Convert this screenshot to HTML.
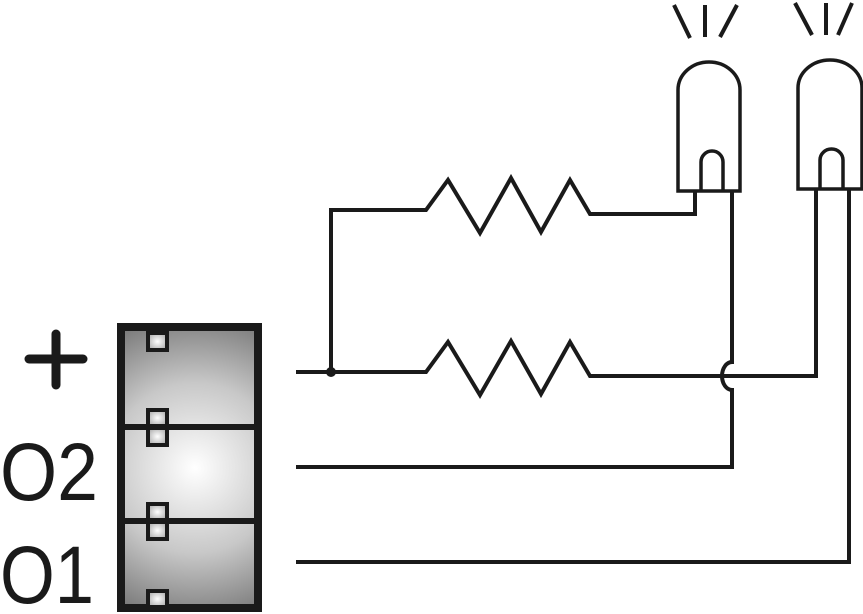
<!DOCTYPE html>
<html><head><style>body{margin:0;background:#fff}svg{display:block}</style></head>
<body>
<svg width="863" height="614" viewBox="0 0 863 614" xmlns="http://www.w3.org/2000/svg">
<defs>
<radialGradient id="g" cx="195" cy="468" r="170" gradientUnits="userSpaceOnUse">
<stop offset="0" stop-color="#ffffff"/><stop offset="0.5" stop-color="#c8c8c8"/><stop offset="1" stop-color="#6a6a6a"/>
</radialGradient>
<radialGradient id="s" cx="0.5" cy="0.5" r="0.6"><stop offset="0" stop-color="#fff"/><stop offset="1" stop-color="#aaa"/></radialGradient>
</defs>
<g fill="none" stroke="#1a1a1a" stroke-width="4" stroke-linejoin="miter">
<!-- top resistor branch -->
<polyline points="331,372 331,210 426,210 448,180 480,233 511,178 541,232 570,180 590,214 695,214 695,191"/>
<!-- middle resistor -->
<polyline points="296,372 426,372 448,342 480,395 511,341 541,394 570,342 590,376 816,376 816,189"/>
<!-- O2 wire with hop -->
<path d="M296,467 H732 V390 A10,14 0 0 1 732,362 V191"/>
<!-- O1 wire -->
<polyline points="296,562 849,562 849,189"/>
<!-- LED1 -->
<path d="M678,191 V90 A31,28 0 0 1 740,90 V191 Z" stroke-width="3.5"/>
<path d="M701,191 V162 A11,11 0 0 1 723,162 V191" stroke-width="3.5"/>
<line x1="674" y1="5" x2="690" y2="38"/><line x1="705" y1="5" x2="705" y2="37"/><line x1="737" y1="5" x2="720" y2="37"/>
<!-- LED2 -->
<path d="M798,189 V88 A32,28 0 0 1 862,88 V189 Z" stroke-width="3.5"/>
<path d="M820,189 V160 A11.5,11 0 0 1 843,160 V189" stroke-width="3.5"/>
<line x1="795" y1="3" x2="812" y2="35"/><line x1="826" y1="3" x2="826" y2="35"/><line x1="852" y1="3" x2="838" y2="35"/>
</g>
<circle cx="331" cy="372" r="5" fill="#1a1a1a"/>
<!-- battery -->
<rect x="121" y="327" width="137" height="281" fill="url(#g)" stroke="#1a1a1a" stroke-width="8"/>
<rect x="121" y="424" width="137" height="6" fill="#1a1a1a"/>
<rect x="121" y="518" width="137" height="6" fill="#1a1a1a"/>
<g fill="url(#s)" stroke="#1a1a1a" stroke-width="4">
<rect x="148" y="333" width="19" height="17"/>
<rect x="148" y="410" width="19" height="16"/><rect x="148" y="428" width="19" height="17"/>
<rect x="148" y="504" width="19" height="16"/><rect x="148" y="522" width="19" height="17"/>
<rect x="148" y="591" width="19" height="16"/>
</g>
<!-- labels -->
<g stroke="#1a1a1a" stroke-width="9" stroke-linecap="round">
<line x1="29" y1="359" x2="83" y2="359"/><line x1="56" y1="334" x2="56" y2="385"/>
</g>
<g font-family="'Liberation Sans',sans-serif" font-size="82" fill="#1a1a1a">
<text x="0" y="500" textLength="98" lengthAdjust="spacingAndGlyphs">O2</text>
<text x="0" y="603" textLength="94" lengthAdjust="spacingAndGlyphs">O1</text>
</g>
</svg>
</body></html>
